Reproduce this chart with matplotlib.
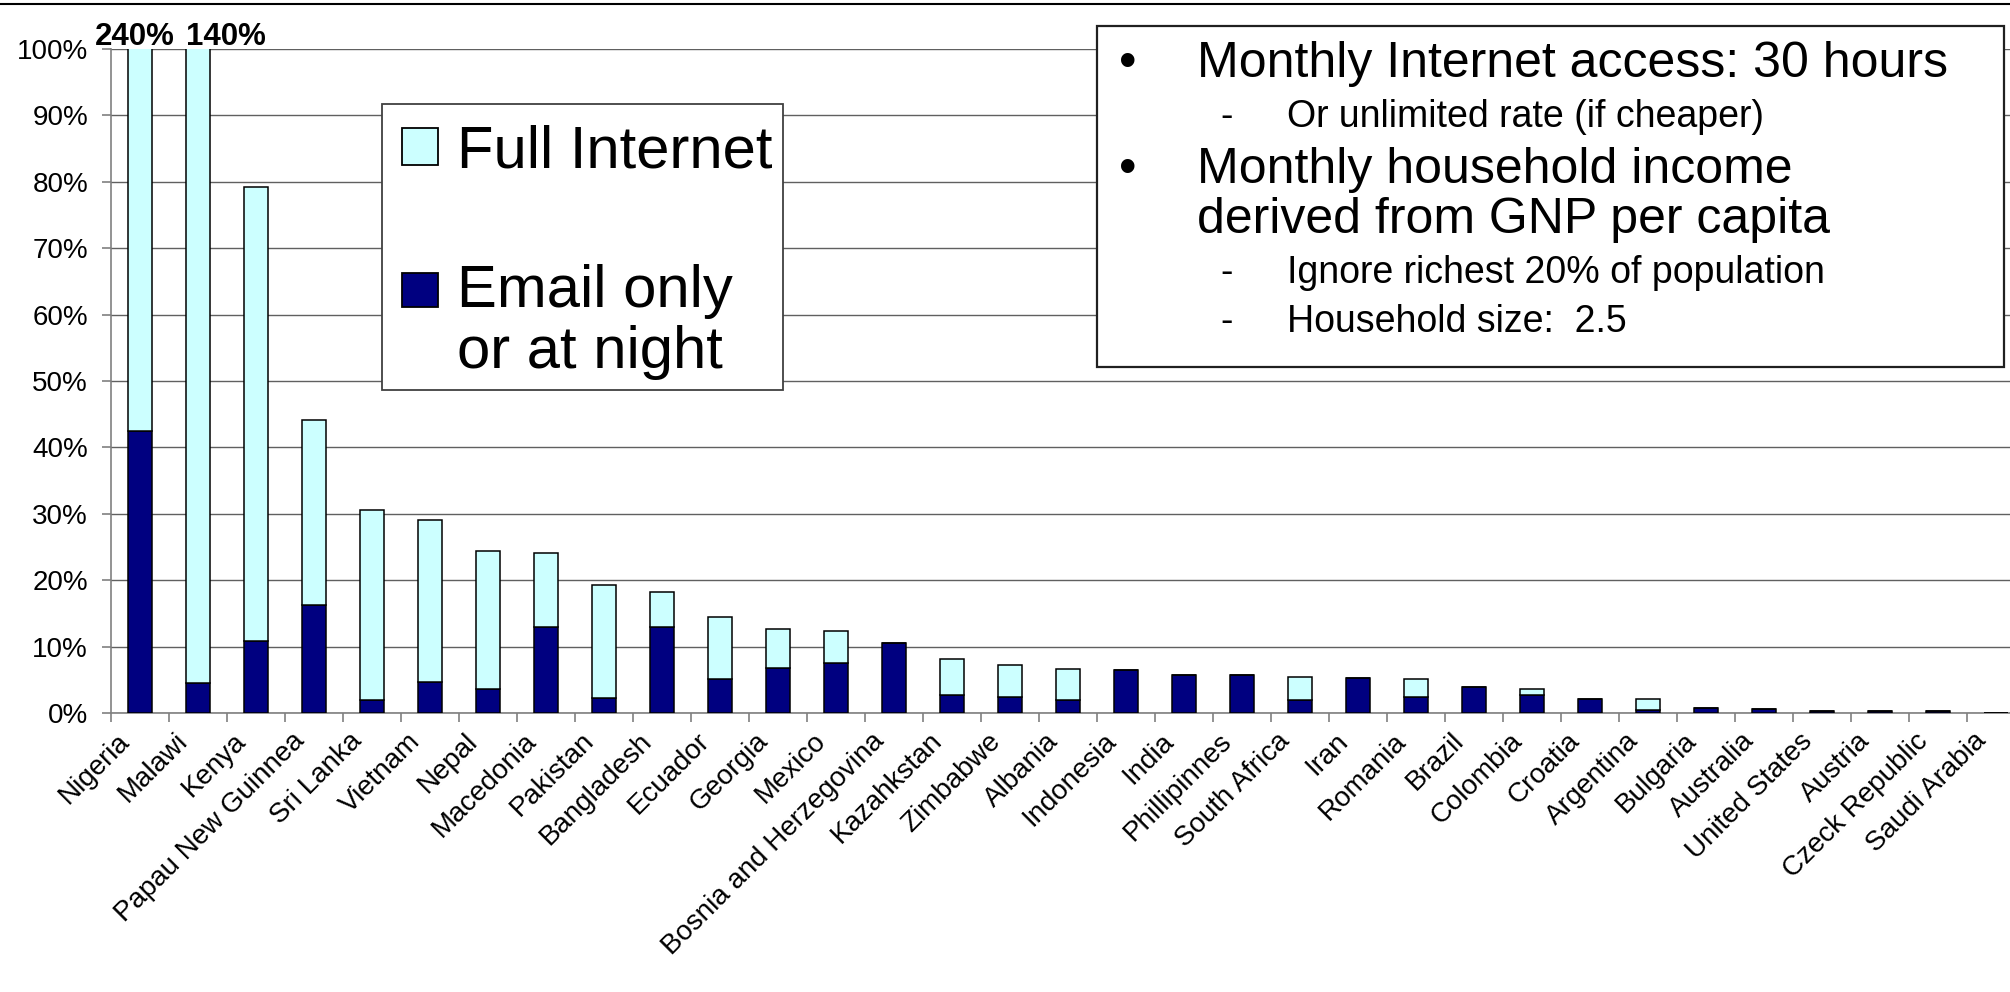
import matplotlib.pyplot as plt
import numpy as np
from matplotlib.patches import Rectangle
from matplotlib.lines import Line2D
from matplotlib.ticker import MultipleLocator, PercentFormatter
from matplotlib.transforms import ScaledTranslation

plt.rcParams['font.family'] = ['Liberation Sans', 'DejaVu Sans']

# cost of internet access as % of monthly household income
countries = ['Nigeria', 'Malawi', 'Kenya', 'Papau New Guinnea', 'Sri Lanka', 'Vietnam',
             'Nepal', 'Macedonia', 'Pakistan', 'Bangladesh', 'Ecuador', 'Georgia', 'Mexico',
             'Bosnia and Herzegovina', 'Kazahkstan', 'Zimbabwe', 'Albania', 'Indonesia',
             'India', 'Phillipinnes', 'South Africa', 'Iran', 'Romania', 'Brazil', 'Colombia',
             'Croatia', 'Argentina', 'Bulgaria', 'Australia', 'United States', 'Austria',
             'Czeck Republic', 'Saudi Arabia']
email_only = [42.4, 4.5, 10.9, 16.2, 2.0, 4.7, 3.6, 13.0, 2.2, 12.9, 5.1, 6.8, 7.5,
              10.5, 2.65, 2.4, 1.9, 6.5, 5.7, 5.7, 1.95, 5.2, 2.45, 3.85, 2.7,
              2.15, 0.4, 0.8, 0.55, 0.3, 0.3, 0.3, 0.0]
full_internet = [240, 140, 79.2, 44.2, 30.6, 29.0, 24.4, 24.1, 19.3, 18.2, 14.5, 12.6, 12.3,
                 10.5, 8.1, 7.2, 6.7, 6.5, 5.7, 5.7, 5.4, 5.2, 5.1, 3.85, 3.55,
                 2.15, 2.1, 0.8, 0.55, 0.3, 0.3, 0.3, 0.0]

legend_labels = ['Full Internet', 'Email only\nor at night']
notes = [('•', 'Monthly Internet access: 30 hours'),
         ('-', 'Or unlimited rate (if cheaper)'),
         ('•', 'Monthly household income\nderived from GNP per capita'),
         ('-', 'Ignore richest 20% of population'),
         ('-', 'Household size:  2.5')]

W, H = 2010, 992
light = '#CCFFFF'
navy = '#000080'


def fx(px):
    return px / W


def fy(py):
    return 1 - py / H


n = len(countries)
x = np.arange(n)
email = np.array(email_only)
full = np.array(full_internet)

fig = plt.figure(figsize=(W / 100, H / 100), dpi=100)
ax = fig.add_axes([fx(111), fy(713), 33 * 58 / W, 664 / H])

ax.bar(x, email, width=0.41, color=navy, edgecolor='black', linewidth=1.1, zorder=3)
ax.bar(x, full - email, bottom=email, width=0.41, color=light, edgecolor='black',
       linewidth=1.1, zorder=3)

ax.set_xlim(-0.5, n - 0.5)
ax.set_ylim(0, 100)
ax.yaxis.set_major_locator(MultipleLocator(10))
ax.yaxis.set_major_formatter(PercentFormatter(decimals=0))
ax.grid(axis='y', color='#606060', linewidth=1.0, zorder=0)
ax.set_axisbelow(True)
for side in ['top', 'right']:
    ax.spines[side].set_visible(False)
for side in ['left', 'bottom']:
    ax.spines[side].set_color('#808080')
    ax.spines[side].set_linewidth(1.2)

# category names drawn as rotated texts under each bar
ax.set_xticks(x)
ax.set_xticklabels([])
shift = ScaledTranslation(-0.23, -0.15, fig.dpi_scale_trans)
for i, name in zip(x, countries):
    ax.text(i, 0, name, transform=ax.get_xaxis_transform() + shift, rotation=45,
            ha='right', va='top', rotation_mode='anchor', fontsize=20)
ax.set_xticks(np.arange(n + 1) - 0.5, minor=True)
ax.tick_params(axis='x', which='major', length=0)
ax.tick_params(axis='x', which='minor', length=6.5, width=1.2, color='#808080', direction='out')
ax.tick_params(axis='y', length=6.5, width=1.2, color='#808080', labelsize=20, pad=10)

# values off the top of the scale
offsets = {0: -0.09, 1: 0.49}
for i, dx in offsets.items():
    ax.annotate(f'{full[i]:.0f}%', (x[i] + dx, 100), xytext=(0, 3), textcoords='offset points',
                ha='center', va='baseline', fontsize=22.5, fontweight='bold',
                annotation_clip=False)

# legend box
fig.add_artist(Rectangle((fx(382), fy(390)), (783 - 382) / W, (390 - 104) / H,
                         transform=fig.transFigure, facecolor='white', edgecolor='#404040',
                         linewidth=1.3, zorder=5))
for color, top, bottom in [(light, 128, 165), (navy, 273, 307)]:
    fig.add_artist(Rectangle((fx(402), fy(bottom)), 36 / W, (bottom - top) / H,
                             transform=fig.transFigure, facecolor=color, edgecolor='black',
                             linewidth=1.3, zorder=6))
legend_lines = [legend_labels[0]] + legend_labels[1].split('\n')
for line, base in zip(legend_lines, [167, 307, 368]):
    fig.text(fx(457), fy(base), line, fontsize=43, va='baseline', zorder=7)

# notes box
fig.add_artist(Rectangle((fx(1097), fy(367)), (2004 - 1097) / W, (367 - 26) / H,
                         transform=fig.transFigure, facecolor='white', edgecolor='#202020',
                         linewidth=1.6, zorder=5))
baselines = [77, 127, 183, 283, 332]
for (mark, line), base in zip(notes, baselines):
    if mark == '•':
        fig.text(fx(1128), fy(base), mark, fontsize=36, ha='center', va='baseline', zorder=7)
        for k, part in enumerate(line.split('\n')):
            fig.text(fx(1197), fy(base + 50 * k), part, fontsize=36, va='baseline', zorder=7)
    else:
        fig.text(fx(1227), fy(base), mark, fontsize=27, ha='center', va='baseline', zorder=7)
        fig.text(fx(1287), fy(base), line, fontsize=27, va='baseline', zorder=7)

fig.add_artist(Line2D([0, 1], [fy(4), fy(4)], color='black', linewidth=1.5,
                      transform=fig.transFigure))

fig.savefig('out.png', dpi=100)
